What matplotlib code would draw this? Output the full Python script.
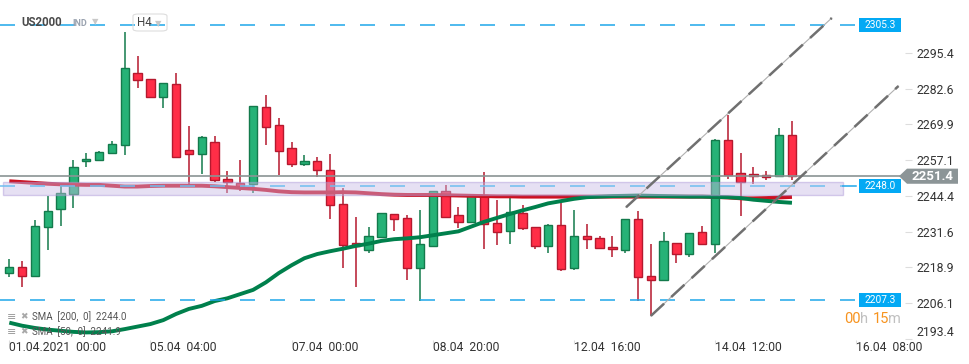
import numpy as np
import matplotlib
matplotlib.use("Agg")
import matplotlib.pyplot as plt
import matplotlib.transforms as mtransforms
from matplotlib.patches import Rectangle, Polygon, FancyBboxPatch

plt.rcParams['font.family'] = ['Roboto', 'DejaVu Sans']
plt.rcParams['lines.scale_dashes'] = False

# H4 candles US2000
opens = [2216.7, 2218.9, 2215.9, 2233.1, 2239.6, 2245.1, 2256.7, 2257.1, 2259.6, 2262.4,
         2288.1, 2286.0, 2279.6, 2284.2, 2260.6, 2259.2, 2263.5, 2250.3, 2249.0, 2248.5,
         2276.0, 2269.6, 2261.4, 2255.6, 2256.7, 2253.5, 2241.5, 2227.4, 2225.0, 2229.6,
         2237.8, 2236.4, 2218.5, 2226.6, 2246.0, 2237.4, 2235.0, 2244.6, 2234.6, 2231.7,
         2238.2, 2233.2, 2226.4, 2233.9, 2218.5, 2230.0, 2229.2, 2226.0, 2225.0, 2236.0,
         2215.7, 2214.5, 2227.4, 2223.5, 2231.4, 2227.1, 2264.2, 2252.4, 2252.1, 2251.7,
         2251.4, 2266.0]
closes = [2218.9, 2215.9, 2233.5, 2238.9, 2245.3, 2254.6, 2257.5, 2259.9, 2262.8, 2289.9,
          2285.6, 2279.6, 2284.6, 2258.1, 2259.2, 2265.3, 2249.9, 2249.2, 2248.0, 2276.4,
          2269.1, 2260.3, 2255.6, 2256.7, 2253.5, 2241.0, 2227.0, 2226.5, 2230.0, 2238.2,
          2236.0, 2218.5, 2227.1, 2246.0, 2236.7, 2234.9, 2244.6, 2234.2, 2231.4, 2238.5,
          2232.8, 2226.4, 2233.9, 2218.2, 2230.0, 2228.9, 2225.7, 2225.3, 2236.0, 2215.3,
          2214.2, 2228.1, 2223.5, 2231.0, 2227.1, 2264.2, 2251.7, 2249.2, 2251.4, 2251.0,
          2266.0, 2251.4]
highs = [2221.7, 2221.1, 2235.6, 2244.3, 2248.9, 2257.2, 2259.6, 2260.4, 2264.0, 2303.0,
         2294.3, 2286.2, 2284.8, 2288.4, 2269.3, 2265.8, 2265.8, 2253.3, 2257.2, 2276.6,
         2280.4, 2272.2, 2263.6, 2259.0, 2258.3, 2259.3, 2247.3, 2236.8, 2233.2, 2238.4,
         2238.0, 2237.4, 2239.3, 2246.2, 2248.3, 2240.3, 2244.8, 2252.9, 2242.9, 2244.0,
         2241.0, 2233.4, 2234.2, 2241.7, 2239.3, 2234.2, 2230.0, 2230.0, 2236.2, 2238.9,
         2227.1, 2231.4, 2227.6, 2231.2, 2233.6, 2264.6, 2273.3, 2259.6, 2254.6, 2253.2,
         2268.5, 2271.0]
lows = [2215.5, 2212.0, 2215.5, 2225.2, 2233.7, 2240.2, 2254.6, 2256.7, 2259.6, 2259.1,
        2283.0, 2279.4, 2275.9, 2258.0, 2248.6, 2252.3, 2249.5, 2245.3, 2246.1, 2245.3,
        2262.5, 2251.8, 2254.8, 2255.2, 2251.2, 2236.2, 2218.7, 2212.0, 2223.8, 2229.4,
        2232.0, 2214.5, 2206.8, 2226.4, 2236.5, 2232.8, 2234.8, 2225.3, 2226.7, 2227.1,
        2232.1, 2225.3, 2223.9, 2217.4, 2217.8, 2225.5, 2225.5, 2222.7, 2223.8, 2206.9,
        2201.5, 2214.1, 2220.3, 2222.4, 2226.9, 2223.9, 2250.3, 2237.1, 2248.5, 2249.9,
        2251.0, 2249.9]

sma200 = [2249.6, 2249.3, 2249.0, 2248.7, 2248.5, 2248.4, 2248.3, 2248.3, 2248.0, 2247.7,
          2247.7, 2247.9, 2248.0, 2248.0, 2248.0, 2248.0, 2247.8, 2247.5, 2247.2, 2246.9,
          2246.5, 2246.0, 2245.7, 2245.6, 2245.6, 2245.6, 2245.7, 2245.6, 2245.3, 2245.0,
          2244.8, 2244.7, 2244.7, 2244.7, 2244.6, 2244.5, 2244.4, 2244.3, 2244.2, 2244.2,
          2244.1, 2244.1, 2244.1, 2244.1, 2244.1, 2244.1, 2244.1, 2244.1, 2244.1, 2244.1,
          2244.1, 2244.1, 2244.1, 2244.1, 2244.1, 2244.0, 2243.8, 2243.5, 2243.5, 2243.6,
          2243.8, 2244.0]
sma50 = [2199.1, 2198.0, 2197.2, 2196.6, 2196.2, 2195.8, 2195.6, 2195.7, 2196.0, 2196.8,
         2197.7, 2198.6, 2200.0, 2202.2, 2204.0, 2205.1, 2206.8, 2207.8, 2209.3, 2210.8,
         2213.5, 2216.8, 2219.6, 2222.1, 2223.6, 2224.6, 2225.5, 2226.5, 2227.3, 2228.3,
         2228.9, 2229.2, 2229.6, 2230.3, 2231.0, 2231.7, 2233.4, 2235.1, 2236.5, 2237.9,
         2239.2, 2240.4, 2241.7, 2242.5, 2243.3, 2243.9, 2244.1, 2244.3, 2244.4, 2244.5,
         2244.4, 2244.3, 2244.2, 2244.1, 2244.1, 2244.0, 2243.9, 2243.6, 2243.0, 2242.6,
         2242.2, 2241.9]

xtick_pos = [0, 11, 22, 33, 44, 55, 66]
xtick_labels = ['01.04.2021  00:00', '05.04  04:00', '07.04  00:00', '08.04  20:00',
                '12.04  16:00', '14.04  12:00', '16.04  08:00']
yticks = [2193.4, 2206.1, 2218.9, 2231.6, 2244.4, 2257.1, 2269.9, 2282.6, 2295.4]

levels = [2305.3, 2207.3]
zone = [2244.8, 2249.2]
zone_level = 2248.0
# trend channel (candle index, price)
chan_low_x = [50, 69.3]
chan_low_y = [2201.5, 2283.6]
chan_up_x = [48.07, 64.1]
chan_up_y = [2240.3, 2307.9]

W, H = 970, 364
fig = plt.figure(figsize=(W / 100, H / 100), dpi=100)
ax = fig.add_axes([0, (H - 340) / H, 905 / W, 340 / H])
ax.set_xlim(-0.725, 69.81)
ax.set_ylim(2314.33 - 340 / 2.8, 2314.33)
for s in ax.spines.values():
    s.set_visible(False)

px = lambda x: x / 905.0  # pixel x -> axes fraction
bl = mtransforms.blended_transform_factory(ax.transAxes, ax.transData)

idx = np.arange(len(opens))
o = np.array(opens); c = np.array(closes)
up = c >= o
g_body, g_edge = '#26b277', '#137a4c'
r_body, r_edge = '#ff2e47', '#b5192e'
ax.vlines(idx[up], np.array(lows)[up], np.array(highs)[up], color=g_edge, lw=1.1, zorder=2)
ax.vlines(idx[~up], np.array(lows)[~up], np.array(highs)[~up], color=r_edge, lw=1.1, zorder=2)
ax.bar(idx[up], (c - o)[up], bottom=o[up], width=0.65, color=g_body, edgecolor=g_edge, lw=1, zorder=3)
ax.bar(idx[~up], (o - c)[~up], bottom=c[~up], width=0.65, color=r_body, edgecolor=r_edge, lw=1, zorder=3)

# moving averages
ax.plot(idx, sma200, color='#cc1020', lw=2.8, zorder=4, solid_capstyle='butt')
ax.plot(idx, sma50, color='#00804c', lw=2.8, zorder=5, solid_capstyle='butt')

# support/resistance zone
ax.add_patch(Rectangle((-0.49, zone[0]), 65.5, zone[1] - zone[0], facecolor=(200/255, 187/255, 229/255),
                       alpha=0.45, edgecolor=(170/255, 150/255, 215/255), lw=1, zorder=6))

blue = '#1ea7ea'
for lv in levels:
    ax.plot([-0.725, 66.0], [lv, lv], color=blue, lw=1.1, dashes=(10.8, 10.8), zorder=7)
ax.plot([-0.725, 65.0], [zone_level, zone_level], color='#6fbff0', lw=1.1, dashes=(10.8, 10.8), zorder=7)
ax.plot([65.0, 66.0], [zone_level, zone_level], color=blue, lw=1.1, zorder=7)

# last price line
last = closes[-1]
ax.plot([-0.725, 69.81], [last, last], color='#8a9494', lw=1.2, zorder=7)

# trend channel
for xs, ys in [(chan_low_x, chan_low_y), (chan_up_x, chan_up_y)]:
    ax.plot(xs, ys, color='#b0b0b0', lw=0.8, zorder=8)
    ax.plot(xs, ys, color='#707070', lw=1.8, dashes=(13, 7), zorder=8)

# level labels on the right
for lv in levels + [zone_level]:
    ax.add_patch(Rectangle((px(859), lv - 2.5), px(42), 5.0, transform=bl, facecolor='#03a9f4',
                           edgecolor='none', zorder=10, clip_on=False))
    ax.text(px(880), lv, f'{lv:.1f}', transform=bl, ha='center', va='center', color='white',
            fontsize=7.3, zorder=11)

# current price tag
ax.add_patch(Polygon([(px(899), last), (px(907), last + 2.7), (px(958), last + 2.7),
                      (px(958), last - 2.7), (px(907), last - 2.7)], closed=True, transform=bl,
                     facecolor='#8c9597', edgecolor='none', zorder=10, clip_on=False))
ax.text(px(932), last, f'{last:.1f}', transform=bl, ha='center', va='center', color='white',
        fontsize=9.5, fontweight='bold', zorder=11, clip_on=False)

# y axis on the right
ax.yaxis.tick_right()
ax.set_yticks(yticks)
ax.set_yticklabels([f'{v:.1f}' for v in yticks])
ax.tick_params(axis='y', length=5, width=0.8, color='#dddddd', pad=3, labelsize=8.8, labelcolor='#333333')
ax.yaxis.get_major_ticks()[0].label2.set_va('bottom')

# x axis
ax.set_xticks(xtick_pos)
ax.set_xticklabels(xtick_labels)
ax.tick_params(axis='x', length=3, width=0.8, color='#dddddd', pad=-2, labelsize=8.7, labelcolor='#333333')
for lab in ax.get_xticklabels():
    lab.set_ha('left')

# header
fy = lambda y: 1 - y / 340.0
ax.text(px(21), fy(23), 'US2000', transform=ax.transAxes, fontsize=8.3, fontweight='bold',
        color='#4a4a4a', va='center', ha='left', zorder=12)
ax.text(px(72), fy(24), 'IND', transform=ax.transAxes, fontsize=6.5, fontweight='bold',
        color='#9aa3b0', va='center', ha='left', zorder=12)
ax.text(px(92), fy(22), '▼', transform=ax.transAxes, fontsize=6, color='#c8c8c8',
        va='center', ha='left', zorder=12, family='DejaVu Sans')
ax.add_patch(FancyBboxPatch((px(133), fy(31)), px(34), 17 / 340, boxstyle='round,pad=0,rounding_size=0.006',
                            transform=ax.transAxes, facecolor='none', edgecolor='#dddddd', lw=0.8, zorder=12))
ax.text(px(137), fy(23), 'H4', transform=ax.transAxes, fontsize=8.3, color='#444444',
        va='center', ha='left', zorder=12)
ax.text(px(155), fy(24), '▼', transform=ax.transAxes, fontsize=6, color='#c8c8c8',
        va='center', ha='left', zorder=12, family='DejaVu Sans')

# indicator legend
for yy, txt in [(317, 'SMA  [200,  0]  2244.0'), (332, 'SMA  [50,  0]  2241.9')]:
    ax.text(px(7), fy(yy), '≡', transform=ax.transAxes, fontsize=8, color='#9a9a9a',
            va='center', ha='left', zorder=12, family='DejaVu Sans')
    ax.text(px(20), fy(yy), '✖', transform=ax.transAxes, fontsize=6.5, color='#a8a8a8',
            va='center', ha='left', zorder=12, family='DejaVu Sans')
    ax.text(px(32), fy(yy), txt, transform=ax.transAxes, fontsize=7, color='#555555',
            va='center', ha='left', zorder=12)

# candle countdown
for xx, t, col in [(844, '00', '#f7931e'), (860, 'h', '#c0c0c0'), (873, '15', '#f7931e'), (888, 'm', '#c0c0c0')]:
    ax.text(px(xx), fy(319), t, transform=ax.transAxes, fontsize=10.5, color=col,
            va='center', ha='left', zorder=12)

fig.savefig('out.png', dpi=100)
